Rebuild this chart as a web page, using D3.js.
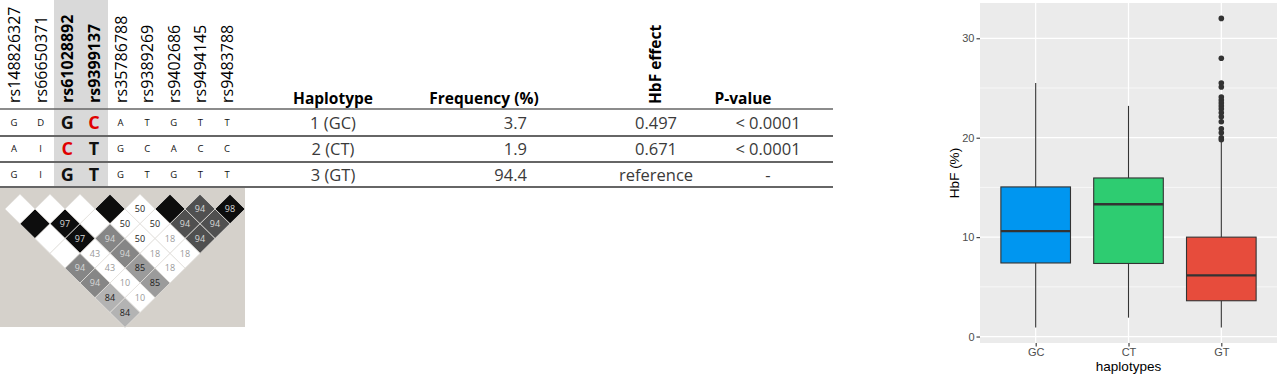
<!DOCTYPE html>
<html>
<head>
<meta charset="utf-8">
<script src="https://cdn.jsdelivr.net/npm/d3@7"></script>
<style>
  body { margin: 0; background: #fff; }
  svg { display: block; }
</style>
</head>
<body>
<div id="vis-container"></div>
<script>
// ---- data ----
var snps = ["rs148826327", "rs66650371", "rs61028892", "rs9399137", "rs35786788",
            "rs9389269", "rs9402686", "rs9494145", "rs9483788"];
var keySnps = [2, 3]; // highlighted columns
var haplotypes = ["1 (GC)", "2 (CT)", "3 (GT)"];
var alleles = [
    ["G", "D", "G", "C", "A", "T", "G", "T", "T"],
    ["A", "I", "C", "T", "G", "C", "A", "C", "C"],
    ["G", "I", "G", "T", "G", "T", "G", "T", "T"]
];
var minorAlleles = [[0, 3], [1, 2]]; // [row, col] shown in red
var frequency = ["3.7", "1.9", "94.4"];
var hbfEffect = ["0.497", "0.671", "reference"];
var pValues = ["< 0.0001", "< 0.0001", "-"];

// LD triangle, one array per depth (0 = adjacent pairs); null = no number
var ldValues = [
    [null, null, null, null, 50, null, 94, 98],
    [null, 97, null, 50, 50, 94, 94],
    [null, 97, 94, 50, 18, 94],
    [null, 43, 94, 18, 18],
    [94, 43, 85, 18],
    [94, 10, 85],
    [84, 10],
    [84]
];
// shade level: 0 white ... 5 black
var ldShades = [
    [0, 0, 0, 5, 0, 5, 4, 5],
    [5, 5, 0, 0, 0, 4, 4],
    [0, 5, 3, 0, 0, 4],
    [0, 0, 3, 0, 0],
    [3, 0, 2, 0],
    [3, 0, 2],
    [1, 0],
    [1]
];

// boxplot summary
var boxCats = ["GC", "CT", "GT"];
var boxColors = ["#0096f0", "#2ecc71", "#e74c3c"];
var whiskerLow = [0.9, 1.9, 0.9];
var q1 = [7.4, 7.35, 3.6];
var median = [10.6, 13.3, 6.15];
var q3 = [15.05, 15.95, 10.0];
var whiskerHigh = [25.5, 23.2, 19.6];
var outliersGT = [32.0, 28.0, 25.5, 25.1, 24.1, 23.8, 23.5, 23.2, 22.9, 22.5, 22.1, 21.6, 20.9, 20.5, 20.0, 19.8];
var yTicks = [0, 10, 20, 30];

// ---- svg ----
var width = 1280;
var height = 375;
var svg = d3.select("#vis-container").append("svg")
    .attr("width", width).attr("height", height);
svg.append("rect").attr("width", width).attr("height", height).attr("fill", "#fff");

var tableFont = "'Open Sans', sans-serif";

// SNP column scale
var colX = d3.scalePoint().domain(d3.range(snps.length)).range([14, 227]);
// row scale for the haplotype rows
var rowY = d3.scalePoint().domain(d3.range(haplotypes.length)).range([123, 175]);

// gray band behind key SNP columns
svg.append("rect")
    .attr("x", 54).attr("y", 0)
    .attr("width", 54).attr("height", 187)
    .attr("fill", "#d9d9d9");

// rotated SNP names
svg.append("g").selectAll("text")
    .data(snps).enter()
    .append("text")
    .attr("transform", (d, i) => "translate(" + (colX(i) + 6) + ",103) rotate(-90)")
    .attr("font-family", tableFont)
    .attr("font-size", 16)
    .attr("font-weight", (d, i) => keySnps.includes(i) ? "bold" : "normal")
    .attr("fill", "#000")
    .text(d => d);

// header labels
var headerG = svg.append("g")
    .attr("font-family", tableFont)
    .attr("font-size", 15.5)
    .attr("font-weight", "bold")
    .attr("fill", "#000");
headerG.append("text").attr("x", 333).attr("y", 104).attr("text-anchor", "middle").text("Haplotype");
headerG.append("text").attr("x", 484).attr("y", 104).attr("text-anchor", "middle").text("Frequency (%)");
headerG.append("text").attr("transform", "translate(661,104) rotate(-90)").text("HbF effect");
headerG.append("text").attr("x", 743).attr("y", 104).attr("text-anchor", "middle").text("P-value");

// table rules
var ruleY = [109, 136, 162, 187];
svg.append("g").selectAll("line")
    .data(ruleY).enter()
    .append("line")
    .attr("x1", 0).attr("x2", 833)
    .attr("y1", d => d).attr("y2", d => d)
    .attr("stroke", "#666")
    .attr("stroke-width", (d, i) => i === 0 ? 1.5 : 2);

// allele letters
alleles.forEach((row, r) => {
    svg.append("g").selectAll("text")
        .data(row).enter()
        .append("text")
        .attr("x", (d, i) => colX(i))
        .attr("y", rowY(r))
        .attr("dy", "0.36em")
        .attr("text-anchor", "middle")
        .attr("font-family", tableFont)
        .attr("font-size", (d, i) => keySnps.includes(i) ? 18 : 9.5)
        .attr("font-weight", (d, i) => keySnps.includes(i) ? "bold" : "normal")
        .attr("fill", (d, i) => minorAlleles.some(m => m[0] === r && m[1] === i) ? "#e00000" : "#111")
        .text(d => d);
});

// haplotype values
var cellG = svg.append("g")
    .attr("font-family", tableFont)
    .attr("font-size", 16.5)
    .attr("fill", "#3a3a3a");
haplotypes.forEach((h, r) => {
    cellG.append("text").attr("x", 333).attr("y", rowY(r)).attr("dy", "0.36em").attr("text-anchor", "middle").text(h);
    cellG.append("text").attr("x", 527).attr("y", rowY(r)).attr("dy", "0.36em").attr("text-anchor", "end").text(frequency[r]);
    cellG.append("text").attr("x", 656).attr("y", rowY(r)).attr("dy", "0.36em").attr("text-anchor", "middle").text(hbfEffect[r]);
    cellG.append("text").attr("x", 768).attr("y", rowY(r)).attr("dy", "0.36em").attr("text-anchor", "middle").text(pValues[r]);
});

// ---- LD plot ----
svg.append("rect")
    .attr("x", 0).attr("y", 188)
    .attr("width", 245).attr("height", 139)
    .attr("fill", "#d5d1cb");

var ldX = d3.scaleLinear().domain([0, 8]).range([5, 245]);
var ldY = d3.scaleLinear().domain([0, 7]).range([209, 312.6]);
var shadeColor = d3.scaleOrdinal()
    .domain([0, 1, 2, 3, 4, 5])
    .range(["#ffffff", "#b3b3b3", "#9b9b9b", "#868686", "#505050", "#0d0d0d"]);

var ldCells = [];
ldValues.forEach((row, k) => {
    row.forEach((v, j) => {
        ldCells.push({ depth: k, pos: j + (k + 1) / 2, value: v, shade: ldShades[k][j] });
    });
});

var hh = 15, hv = 14.8;
var ldG = svg.append("g");
ldG.selectAll("polygon")
    .data(ldCells).enter()
    .append("polygon")
    .attr("points", d => {
        var cx = ldX(d.pos), cy = ldY(d.depth);
        return [[cx, cy - hv], [cx + hh, cy], [cx, cy + hv], [cx - hh, cy]].join(" ");
    })
    .attr("fill", d => shadeColor(d.shade))
    .attr("stroke", "#e2e0dc")
    .attr("stroke-width", 0.8);

ldG.selectAll("text")
    .data(ldCells.filter(d => d.value !== null)).enter()
    .append("text")
    .attr("x", d => ldX(d.pos))
    .attr("y", d => ldY(d.depth))
    .attr("dy", "0.35em")
    .attr("text-anchor", "middle")
    .attr("font-family", tableFont)
    .attr("font-size", 9)
    .attr("fill", d => d.shade >= 3 ? "#d8d8d8" : (d.shade === 0 && d.value < 50 ? "#9a9a9a" : "#222"))
    .text(d => d.value);

// ---- boxplot (ggplot look) ----
var panel = { left: 980, right: 1277, top: 3, bottom: 343 };
// ggplot discrete expansion: 0.6 units each side
var xPos = d3.scaleLinear().domain([0.4, 3.6]).range([panel.left, panel.right]);
var yScale = d3.scaleLinear().domain([-0.65, 33.55]).range([panel.bottom, panel.top]);

svg.append("rect")
    .attr("x", panel.left).attr("y", panel.top)
    .attr("width", panel.right - panel.left).attr("height", panel.bottom - panel.top)
    .attr("fill", "#ebebeb");

var gridG = svg.append("g").attr("stroke", "#fff");
gridG.selectAll(".minor")
    .data([5, 15, 25]).enter()
    .append("line")
    .attr("x1", panel.left).attr("x2", panel.right)
    .attr("y1", d => yScale(d)).attr("y2", d => yScale(d))
    .attr("stroke-width", 0.6);
gridG.selectAll(".major")
    .data(yTicks).enter()
    .append("line")
    .attr("x1", panel.left).attr("x2", panel.right)
    .attr("y1", d => yScale(d)).attr("y2", d => yScale(d))
    .attr("stroke-width", 1.2);
gridG.selectAll(".vmajor")
    .data(boxCats).enter()
    .append("line")
    .attr("x1", (d, i) => xPos(i + 1)).attr("x2", (d, i) => xPos(i + 1))
    .attr("y1", panel.top).attr("y2", panel.bottom)
    .attr("stroke-width", 1.2);

var boxW = 0.75 * (xPos(2) - xPos(1));
var boxG = svg.append("g");
boxCats.forEach((c, i) => {
    var cx = xPos(i + 1);
    // whiskers
    boxG.append("line")
        .attr("x1", cx).attr("x2", cx)
        .attr("y1", yScale(q3[i])).attr("y2", yScale(whiskerHigh[i]))
        .attr("stroke", "#333").attr("stroke-width", 1.1);
    boxG.append("line")
        .attr("x1", cx).attr("x2", cx)
        .attr("y1", yScale(q1[i])).attr("y2", yScale(whiskerLow[i]))
        .attr("stroke", "#333").attr("stroke-width", 1.1);
    boxG.append("rect")
        .attr("x", cx - boxW / 2).attr("y", yScale(q3[i]))
        .attr("width", boxW).attr("height", yScale(q1[i]) - yScale(q3[i]))
        .attr("fill", boxColors[i])
        .attr("stroke", "#333").attr("stroke-width", 1.1);
    boxG.append("line")
        .attr("x1", cx - boxW / 2).attr("x2", cx + boxW / 2)
        .attr("y1", yScale(median[i])).attr("y2", yScale(median[i]))
        .attr("stroke", "#333").attr("stroke-width", 2.4);
});

boxG.selectAll("circle")
    .data(outliersGT).enter()
    .append("circle")
    .attr("cx", xPos(3))
    .attr("cy", d => yScale(d))
    .attr("r", 2.8)
    .attr("fill", "#333");

// axes
var axisFont = "'Liberation Sans', Arial, sans-serif";
var yAxis = d3.axisLeft(yScale).tickValues(yTicks).tickSize(3.5).tickPadding(2);
svg.append("g")
    .attr("transform", "translate(" + panel.left + ",0)")
    .call(yAxis)
    .call(g => g.select(".domain").remove())
    .call(g => g.selectAll("line").attr("stroke", "#333").attr("stroke-width", 1.1))
    .call(g => g.selectAll("text").attr("fill", "#4d4d4d").attr("font-size", 11).attr("font-family", axisFont));

var xAxis = d3.axisBottom(xPos).tickValues([1, 2, 3]).tickFormat(d => boxCats[d - 1]).tickSize(3.5).tickPadding(2);
svg.append("g")
    .attr("transform", "translate(0," + panel.bottom + ")")
    .call(xAxis)
    .call(g => g.select(".domain").remove())
    .call(g => g.selectAll("line").attr("stroke", "#333").attr("stroke-width", 1.1))
    .call(g => g.selectAll("text").attr("fill", "#4d4d4d").attr("font-size", 11).attr("font-family", axisFont));

svg.append("text")
    .attr("x", (panel.left + panel.right) / 2).attr("y", 371)
    .attr("text-anchor", "middle")
    .attr("font-family", axisFont).attr("font-size", 13.5)
    .attr("fill", "#000")
    .text("haplotypes");

svg.append("text")
    .attr("transform", "translate(959," + ((panel.top + panel.bottom) / 2) + ") rotate(-90)")
    .attr("text-anchor", "middle")
    .attr("font-family", axisFont).attr("font-size", 13.5)
    .attr("fill", "#000")
    .text("HbF (%)");
</script>
</body>
</html>
